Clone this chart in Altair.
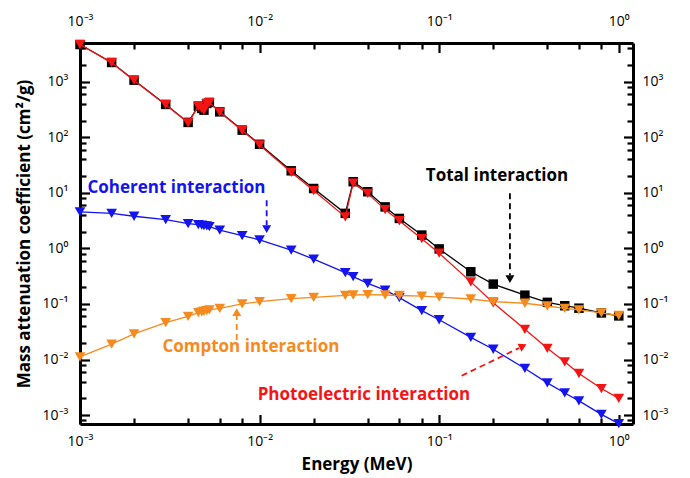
import altair as alt
import pandas as pd

# ---------------- data ----------------
ENERGY = [0.001, 0.0015, 0.002, 0.003, 0.004, 0.00456, 0.00476, 0.0049, 0.00508, 0.00525,
          0.006, 0.008, 0.01, 0.015, 0.02, 0.03, 0.0332, 0.04, 0.05, 0.06, 0.08, 0.1,
          0.15, 0.2, 0.3, 0.4, 0.5, 0.6, 0.8, 1.0]
TOTAL = [4700, 2230, 1070, 392, 186, 365, 332, 309, 408, 426,
         288, 135, 75, 25, 12.0, 4.28, 15.9, 10.5, 5.6, 3.47, 1.74, 0.98,
         0.38, 0.228, 0.144, 0.107, 0.093, 0.084, 0.069, 0.061]
PHOTO = [4690, 2220, 1060, 388, 183, 362, 329, 306, 405, 423,
         285, 133, 73, 23.5, 11.0, 3.7, 15.0, 9.8, 5.0, 3.15, 1.5, 0.82,
         0.25, 0.105, 0.035, 0.0159, 0.0091, 0.0056, 0.0030, 0.0020]
COHERENT = [4.57, 4.27, 3.8, 3.3, 2.8, 2.68, 2.62, 2.58, 2.54, 2.48,
            2.14, 1.70, 1.43, 0.93, 0.64, 0.366, 0.31, 0.235, 0.178, 0.13, 0.076, 0.052,
            0.025, 0.0153, 0.0069, 0.0038, 0.0025, 0.0018, 0.00103, 0.00070]
COMPTON = [0.0112, 0.019, 0.029, 0.046, 0.060, 0.070, 0.072, 0.074, 0.076, 0.078,
           0.083, 0.100, 0.110, 0.125, 0.132, 0.143, 0.145, 0.147, 0.145, 0.142, 0.138, 0.133,
           0.123, 0.110, 0.103, 0.092, 0.083, 0.078, 0.069, 0.062]

SERIES = ["total", "photo", "coherent", "compton"]
SERIES_COLORS = ["#000000", "#F41414", "#1414EE", "#F58B1F"]

# annotations (data coordinates)
ANN_SERIES = ["coherent", "total", "compton", "photo"]
ANN_TEXT = ["Coherent interaction", "Total interaction", "Compton interaction",
            "Photoelectric interaction"]
ANN_E = [0.003446, 0.21, 0.00895, 0.0381]
ANN_MU = [12.2, 20.0, 0.0167, 0.00229]

ARROW_E0 = [0.01095, 0.2477, 0.00746, 0.1334]
ARROW_MU0 = [7.41, 9.9, 0.0224, 0.0051]
ARROW_E1 = [0.01095, 0.2477, 0.00746, 0.278]
ARROW_MU1 = [2.61, 0.33, 0.065, 0.01607]
HEAD_E = [0.01095, 0.2477, 0.00746, 0.2928]
HEAD_MU = [2.23, 0.28, 0.0713, 0.01746]
HEAD_SHAPE = ["triangle-down", "triangle-down", "triangle-up", "triangle-right"]
HEAD_ANGLE = [0, 0, 0, 334]

X_MAJOR = [0.001, 0.01, 0.1, 1.0]
X_MINOR = [m * d for d in [0.001, 0.01, 0.1] for m in (2, 4, 6, 8)]
Y_MAJOR = [0.001, 0.01, 0.1, 1.0, 10.0, 100.0, 1000.0]
Y_MINOR = [m * d for d in [0.0001, 0.001, 0.01, 0.1, 1.0, 10.0, 100.0, 1000.0] for m in (2, 4, 6, 8)]

# ---------------- chart ----------------
W, H = 553, 381
X_DOM = [0.001, 1.2]
Y_DOM = [6.9e-4, 5000]
X_MINOR = [v for v in X_MINOR if X_DOM[0] <= v <= X_DOM[1]]
Y_MINOR = [v for v in Y_MINOR if Y_DOM[0] <= v <= Y_DOM[1]]
X_ALL = sorted(X_MAJOR + X_MINOR)
Y_ALL = sorted(Y_MAJOR + Y_MINOR)

xs = alt.Scale(type="log", domain=X_DOM, nice=False)
ys = alt.Scale(type="log", domain=Y_DOM, nice=False)
cs = alt.Scale(domain=SERIES, range=SERIES_COLORS)

LABEL_EXPR = ("'10' + replace(replace(replace(replace(replace('' + round(log(datum.value) / LN10),"
              " '-', '⁻'), '0', '⁰'), '1', '¹'), '2', '²'), '3', '³')")
MAJOR_TEST = "abs(log(datum.value) / LN10 - round(log(datum.value) / LN10)) < 0.001"
TICK_SIZE = {"condition": {"test": MAJOR_TEST, "value": 9.5}, "value": 6}
FONT = "Open Sans"


def label_axis(orient, values, pad, title_pad=0):
    return alt.Axis(orient=orient, values=values, labelExpr=LABEL_EXPR, ticks=False, tickSize=0,
                    domain=True, domainColor="black", domainWidth=3, grid=False,
                    labelFont=FONT, labelFontSize=14, labelColor="black", labelPadding=pad,
                    labelFlush=False, labelOverlap=False,
                    titleFont=FONT, titleFontSize=17, titleFontWeight="bold",
                    titleColor="black", titlePadding=title_pad)


def tick_axis(orient, values, offset):
    return alt.Axis(orient=orient, values=values, offset=offset, labels=False, domain=False,
                    ticks=True, tickSize=TICK_SIZE, tickWidth=2.2, tickColor="black",
                    grid=False)


df = pd.DataFrame({"E": ENERGY, "total": TOTAL, "photo": PHOTO,
                   "coherent": COHERENT, "compton": COMPTON})
long = df.melt(id_vars="E", var_name="series", value_name="mu")

axes_sets = {
    ("total", "line"): (label_axis("bottom", X_MAJOR, 10, 8), "Energy (MeV)",
                        label_axis("left", Y_MAJOR, 12, 9), "Mass attenuation coefficient (cm²/g)"),
    ("total", "point"): (tick_axis("top", X_ALL, -H), None, tick_axis("right", Y_ALL, -W), None),
    ("photo", "line"): (label_axis("top", X_MAJOR, 15), None, label_axis("right", Y_MAJOR, 9), None),
    ("photo", "point"): (tick_axis("bottom", X_ALL, -H), None, tick_axis("left", Y_ALL, -W), None),
}

layers = []
for s in SERIES:
    sub = alt.Chart(long).transform_filter(alt.datum.series == s)
    shape = "square" if s == "total" else "triangle-down"
    size = 90 if s == "total" else 115
    for kind in ("line", "point"):
        if (s, kind) in axes_sets:
            xa, xt, ya, yt = axes_sets[(s, kind)]
            xenc = alt.X("E:Q", scale=xs, axis=xa, title=xt)
            yenc = alt.Y("mu:Q", scale=ys, axis=ya, title=yt)
        else:
            xenc = alt.X("E:Q", scale=xs, axis=None)
            yenc = alt.Y("mu:Q", scale=ys, axis=None)
        if kind == "line":
            mk = sub.mark_line(strokeWidth=1.3)
        else:
            mk = sub.mark_point(shape=shape, filled=True, size=size, opacity=1)
        layers.append(mk.encode(x=xenc, y=yenc,
                                color=alt.Color("series:N", scale=cs, legend=None)))

ann = pd.DataFrame({"series": ANN_SERIES, "text": ANN_TEXT, "E": ANN_E, "mu": ANN_MU})
layers.append(alt.Chart(ann).mark_text(font=FONT, fontSize=17, fontWeight="bold",
                                       align="center", baseline="middle").encode(
    x=alt.X("E:Q", scale=xs, axis=None), y=alt.Y("mu:Q", scale=ys, axis=None),
    text="text:N", color=alt.Color("series:N", scale=cs, legend=None)))

arr = pd.DataFrame({"series": ANN_SERIES, "E0": ARROW_E0, "mu0": ARROW_MU0,
                    "E1": ARROW_E1, "mu1": ARROW_MU1})
layers.append(alt.Chart(arr).mark_rule(strokeDash=[6, 4], strokeWidth=1.8).encode(
    x=alt.X("E0:Q", scale=xs, axis=None), y=alt.Y("mu0:Q", scale=ys, axis=None),
    x2="E1:Q", y2="mu1:Q", color=alt.Color("series:N", scale=cs, legend=None)))

for i in range(len(HEAD_E)):
    hd = pd.DataFrame({"series": [ANN_SERIES[i]], "E": [HEAD_E[i]], "mu": [HEAD_MU[i]]})
    layers.append(alt.Chart(hd).mark_point(shape=HEAD_SHAPE[i], angle=HEAD_ANGLE[i], filled=True,
                                           size=80, opacity=1).encode(
        x=alt.X("E:Q", scale=xs, axis=None), y=alt.Y("mu:Q", scale=ys, axis=None),
        color=alt.Color("series:N", scale=cs, legend=None)))

chart = alt.layer(*layers).resolve_axis(x="independent", y="independent").properties(
    width=W, height=H,
    padding={"left": 72, "top": 35, "right": 49, "bottom": 54},
    autosize=alt.AutoSizeParams(type="none"),
    background="white",
).configure_view(strokeWidth=0)

chart.save("out.html", embed_options={"renderer": "svg", "actions": False})
